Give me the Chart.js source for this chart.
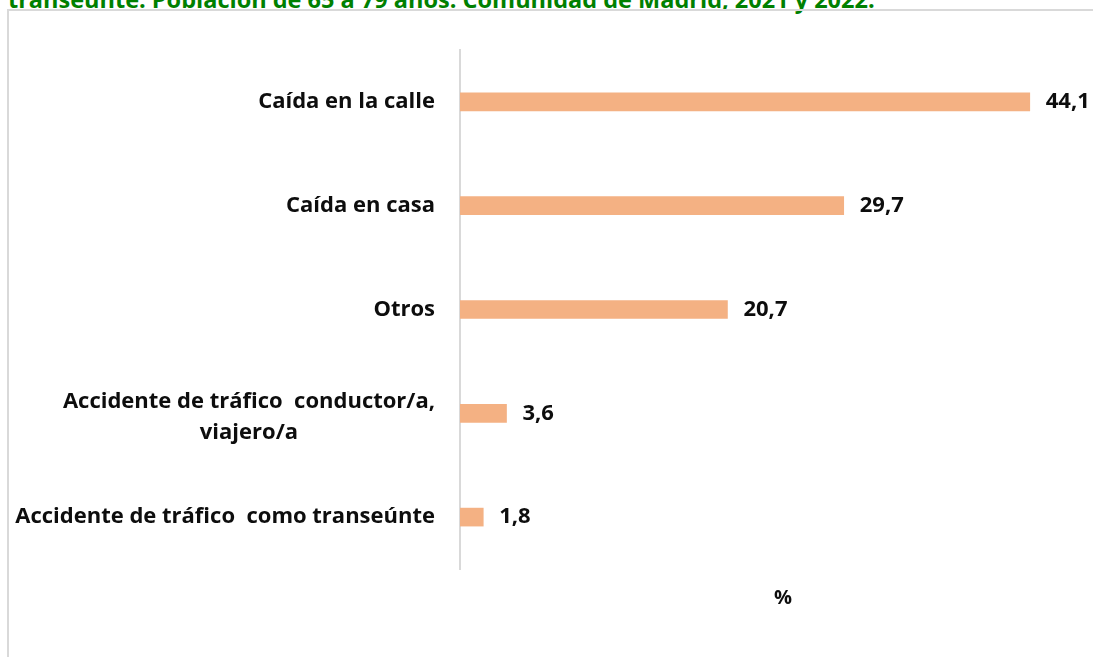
<!DOCTYPE html>
<html>
<head>
<meta charset="utf-8">
<script src="https://cdn.jsdelivr.net/npm/chart.js@4/dist/chart.umd.min.js"></script>
<style>
  html, body { margin: 0; padding: 0; width: 1093px; height: 657px; overflow: hidden; background: #fff; }
  #title { position: absolute; left: 8px; top: -17px; font: bold 23.5px "Open Sans", sans-serif; color: #008000; white-space: nowrap; }
  #frame { position: absolute; left: 7px; top: 9px; width: 2000px; height: 2000px; border-left: 2px solid #d9d9d9; border-top: 2px solid #d9d9d9; }
  #c { position: absolute; left: 0; top: 0; }
</style>
</head>
<body>
<div id="title">transeúnte. Población de 65 a 79 años. Comunidad de Madrid, 2021 y 2022.</div>
<div id="frame"></div>
<canvas id="c" width="1130" height="657"></canvas>
<script>
const categories = [
  ['Caída en la calle'],
  ['Caída en casa'],
  ['Otros'],
  ['Accidente de tráfico  conductor/a,', 'viajero/a'],
  ['Accidente de tráfico  como transeúnte']
];
const values = [44.1, 29.7, 20.7, 3.6, 1.8];
const axisTitle = '%';
const axisMax = 50;

const LABEL_FONT = 'bold 22px "Open Sans", sans-serif';
const VALUE_FONT = 'bold 22px "Open Sans", sans-serif';

const categoryLabelPlugin = {
  id: 'categoryLabels',
  afterDraw(chart) {
    const ctx = chart.ctx;
    const y = chart.scales.y;
    const right = chart.chartArea.left - 25;
    const lineH = 31;
    ctx.save();
    ctx.font = LABEL_FONT;
    ctx.fillStyle = '#0d0d0d';
    ctx.textBaseline = 'middle';
    categories.forEach((lines, i) => {
      const cy = y.getPixelForTick(i) + (lines.length > 1 ? 4 : 0);
      const maxW = Math.max(...lines.map(l => ctx.measureText(l).width));
      const cx = right - maxW / 2;
      ctx.textAlign = 'center';
      lines.forEach((l, k) => {
        const ly = cy + (k - (lines.length - 1) / 2) * lineH;
        ctx.fillText(l, cx, ly);
      });
    });
    ctx.restore();
  }
};

const valueLabelPlugin = {
  id: 'valueLabels',
  afterDatasetsDraw(chart) {
    const ctx = chart.ctx;
    const meta = chart.getDatasetMeta(0);
    ctx.save();
    ctx.font = VALUE_FONT;
    ctx.fillStyle = '#0d0d0d';
    ctx.textAlign = 'left';
    ctx.textBaseline = 'middle';
    meta.data.forEach((bar, i) => {
      const txt = values[i].toFixed(1).replace('.', ',');
      ctx.fillText(txt, bar.x + 16, bar.y);
    });
    ctx.restore();
  }
};

new Chart(document.getElementById('c'), {
  type: 'bar',
  data: {
    labels: categories,
    datasets: [{
      data: values,
      backgroundColor: '#F4B183',
      borderWidth: 0,
      barThickness: 18
    }]
  },
  options: {
    indexAxis: 'y',
    responsive: false,
    animation: false,
    devicePixelRatio: 1,
    layout: { padding: { left: 460, top: 50, right: 24, bottom: 0 } },
    plugins: { legend: { display: false }, tooltip: { enabled: false } },
    scales: {
      x: {
        min: 0,
        max: axisMax,
        grid: { display: false, drawTicks: false },
        border: { display: false },
        ticks: { display: false },
        title: {
          display: true,
          text: axisTitle,
          color: '#0d0d0d',
          font: { family: 'Open Sans', size: 20, weight: 'bold', lineHeight: 1.2 },
          padding: { top: 17, bottom: 47 }
        }
      },
      y: {
        grid: { display: false, drawTicks: false },
        border: { display: true, color: '#d9d9d9', width: 2 },
        ticks: { display: false }
      }
    }
  },
  plugins: [categoryLabelPlugin, valueLabelPlugin]
});
</script>
</body>
</html>
